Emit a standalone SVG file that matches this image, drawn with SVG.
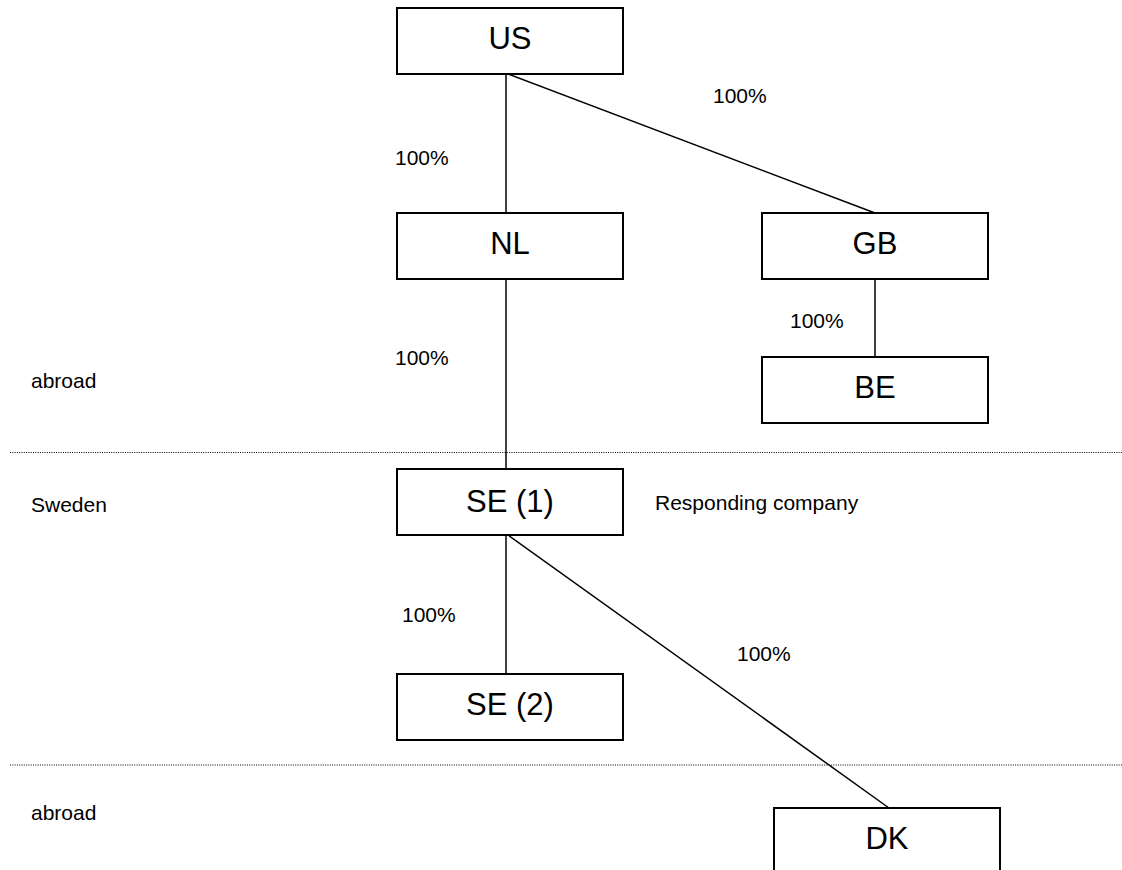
<svg xmlns="http://www.w3.org/2000/svg" width="1122" height="870" viewBox="0 0 1122 870">
<style>
.box{fill:#fff;stroke:#000;stroke-width:2}
.bl{font-family:"Liberation Sans",Arial,sans-serif;font-size:31px;fill:#000;text-anchor:middle}
.lb{font-family:"Liberation Sans",Arial,sans-serif;font-size:21px;fill:#000}
.con{stroke:#000;stroke-width:1.5;fill:none}
.dot{stroke:#000;stroke-width:1.2;stroke-dasharray:1 1.3;fill:none}
</style>
<rect width="1122" height="870" fill="#fff"/>
<g id="separators">
<line class="dot" x1="10" y1="452.5" x2="1122" y2="452.5"/>
<line class="dot" x1="10" y1="765" x2="1122" y2="765"/>
</g>
<g id="connectors">
<line class="con" x1="506" y1="74" x2="506" y2="213"/>
<line class="con" x1="508" y1="74" x2="875" y2="213"/>
<line class="con" x1="506" y1="279" x2="506" y2="469"/>
<line class="con" x1="875" y1="279" x2="875" y2="357"/>
<line class="con" x1="506" y1="535" x2="506" y2="674"/>
<line class="con" x1="508" y1="535" x2="889" y2="808"/>
</g>
<g id="labels">
<text class="lb" x="395" y="165">100%</text>
<text class="lb" x="713" y="103">100%</text>
<text class="lb" x="395" y="365">100%</text>
<text class="lb" x="790" y="328">100%</text>
<text class="lb" x="402" y="622">100%</text>
<text class="lb" x="737" y="661">100%</text>
<text class="lb" x="31" y="388">abroad</text>
<text class="lb" x="31" y="512">Sweden</text>
<text class="lb" x="31" y="820">abroad</text>
<text class="lb" x="655" y="510">Responding company</text>
</g>
<g id="node-US"><rect class="box" x="397" y="8" width="226" height="66"/><text class="bl" x="510" y="48.5">US</text></g>
<g id="node-NL"><rect class="box" x="397" y="213" width="226" height="66"/><text class="bl" x="510" y="253.5">NL</text></g>
<g id="node-GB"><rect class="box" x="762" y="213" width="226" height="66"/><text class="bl" x="875" y="253.5">GB</text></g>
<g id="node-BE"><rect class="box" x="762" y="357" width="226" height="66"/><text class="bl" x="875" y="397.5">BE</text></g>
<g id="node-SE1"><rect class="box" x="397" y="469" width="226" height="66"/><text class="bl" x="510" y="512">SE (1)</text></g>
<g id="node-SE2"><rect class="box" x="397" y="674" width="226" height="66"/><text class="bl" x="510" y="715">SE (2)</text></g>
<g id="node-DK"><rect class="box" x="774" y="808" width="226" height="66"/><text class="bl" x="887" y="848.5">DK</text></g>
</svg>
